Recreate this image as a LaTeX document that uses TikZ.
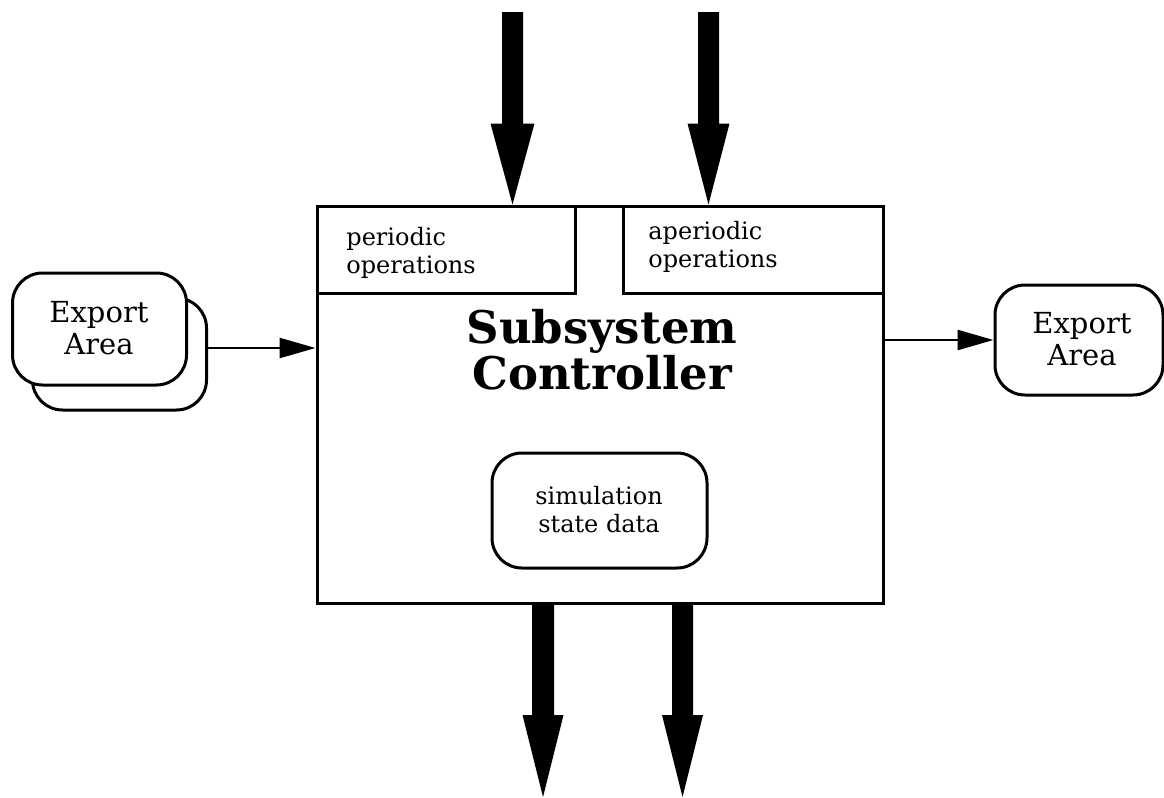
\documentclass[tikz,border=0pt]{standalone}
\usepackage{fontspec}
\setmainfont{DejaVu Serif}
\usetikzlibrary{arrows.meta,calc}

\tikzset{
  box/.style={draw, line width=1.5pt, rectangle, inner sep=0pt},
  rbox/.style={draw, line width=1.5pt, rectangle, rounded corners=15pt, inner sep=0pt, fill=white},
  lbl/.style={inner sep=0pt, align=center, font=\fontsize{14.5}{16}\selectfont},
  small/.style={inner sep=0pt, align=left, font=\fontsize{12}{14}\selectfont},
  title/.style={inner sep=0pt, align=center, font=\fontsize{22.5}{22}\selectfont\bfseries},
  flow/.style={line width=1.3pt, -{Triangle[length=18pt,width=10pt]}},
  fatfill/.style={fill=black, draw=none}
}

% solid downward block arrow: #1 tail, #2 tip, #3 half shaft width,
% #4 half head width, #5 head length
\newcommand{\blockdown}[5]{%
  \path[fatfill] ($(#1)+(-#3,0)$) -- ($(#2)+(-#3,-#5)$) -- ($(#2)+(-#4,-#5)$)
    -- (#2) -- ($(#2)+(#4,-#5)$) -- ($(#2)+(#3,-#5)$) -- ($(#1)+(#3,0)$) -- cycle;}

\begin{document}
\begin{tikzpicture}[x=0.5pt, y=-0.5pt]
  \useasboundingbox (0,0) rectangle (1164,798);

  % controller body and its two operation compartments
  \node[box, minimum width=283pt, minimum height=198.5pt] (ctrl) at (600,404.5) {};
  \node[box, minimum width=129pt, minimum height=43.5pt] (per) at (446,249.5) {};
  \node[box, minimum width=130pt, minimum height=43.5pt] (aper) at (753,249.5) {};
  \node[small, anchor=west] (perlab) at (346,253) {periodic\\operations};
  \node[small, anchor=west] (aperlab) at (648,247) {aperiodic\\operations};

  \node[title] (ttl) at (602,350) {Subsystem\\Controller};

  % internal state store
  \node[rbox, minimum width=107.5pt, minimum height=57.5pt] (sim) at (599.5,510.5) {};
  \node[small, align=center] (simlab) at (599,510) {simulation\\state data};

  % stacked export areas on the input side
  \node[rbox, minimum width=87pt, minimum height=56pt] (expB) at (119.5,354) {};
  \node[rbox, minimum width=87pt, minimum height=56pt] (expF) at (99.5,329) {};
  \node[lbl] (expFlab) at (99,328) {Export\\Area};

  % export area on the output side
  \node[rbox, minimum width=84pt, minimum height=55pt] (expR) at (1079,340) {};
  \node[lbl] (expRlab) at (1082,339) {Export\\Area};

  % data flows
  \coordinate (yin) at (0,348);
  \draw[flow] (expB.east |- yin) -- (ctrl.west |- yin);
  \draw[flow] (ctrl.east |- expR.west) -- (expR.west);

  % incoming control flows
  \coordinate (t1) at (512.5,12);
  \coordinate (t2) at (708.5,12);
  \coordinate (t1tip) at (t1 |- ctrl.north);
  \coordinate (t2tip) at (t2 |- ctrl.north);
  \blockdown{t1}{t1tip}{10.5}{22}{81}
  \blockdown{t2}{t2tip}{10.5}{21}{81}

  % outgoing control flows
  \coordinate (b1) at (543,797);
  \coordinate (b2) at (682.5,797);
  \coordinate (b1top) at (b1 |- ctrl.south);
  \coordinate (b2top) at (b2 |- ctrl.south);
  \blockdown{b1top}{b1}{11}{20.5}{82}
  \blockdown{b2top}{b2}{10.5}{20.5}{82}
\end{tikzpicture}
\end{document}
